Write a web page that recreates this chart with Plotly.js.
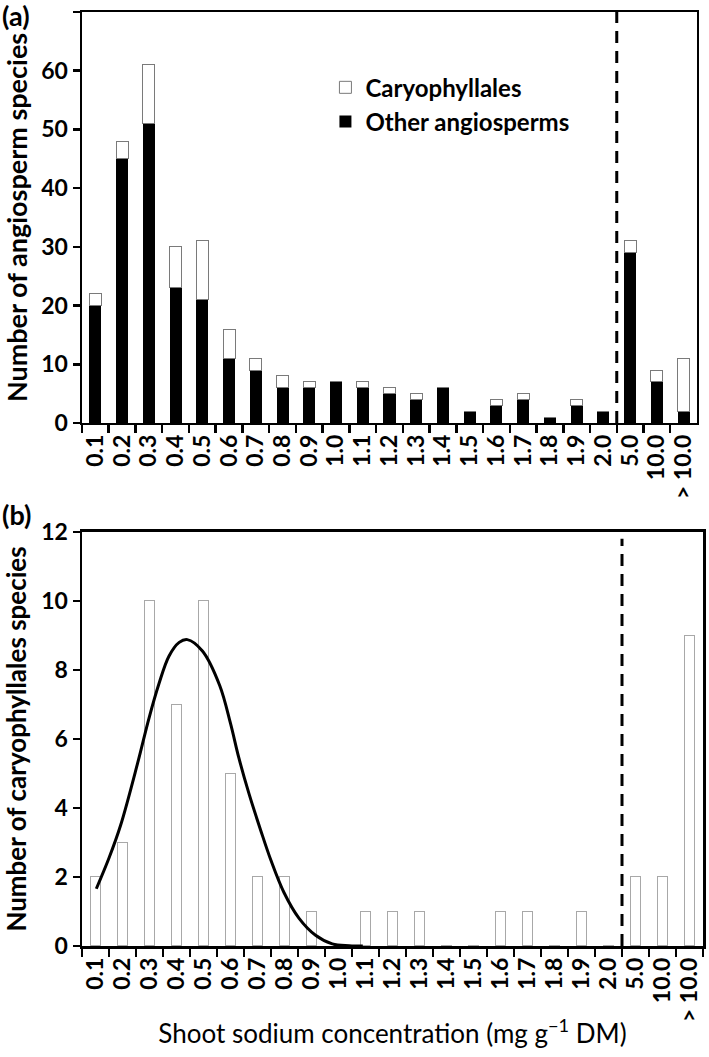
<!DOCTYPE html>
<html>
<head>
<meta charset="utf-8">
<script src="https://cdn.plot.ly/plotly-3.0.1.min.js"></script>
<style>html,body{margin:0;padding:0;background:#fff;}#chart{width:709px;height:1057px;}</style>
</head>
<body>
<div id="chart"></div>
<script>
// Categories (shoot Na concentration bins, mg g-1 DM)
const categories = ["0.1","0.2","0.3","0.4","0.5","0.6","0.7","0.8","0.9","1.0",
  "1.1","1.2","1.3","1.4","1.5","1.6","1.7","1.8","1.9","2.0","5.0","10.0","> 10.0"];
// Panel (a): other angiosperms (black) and Caryophyllales (white, stacked)
const otherAngiosperms = [20,45,51,23,21,11,9,6,6,7,6,5,4,6,2,3,4,1,3,2,29,7,2];
const caryophyllales   = [2,3,10,7,10,5,2,2,1,0,1,1,1,0,0,1,1,0,1,0,2,2,9];
// Panel (b): fitted curve (x in category-index units)
const curveX = [0.03,0.5,0.93,1.56,1.98,2.35,2.72,3.1,3.4,3.96,4.6,5.0,5.31,5.69,6.12,6.49,6.98,7.54,8.15,8.77,9.4,9.9];
const curveY = [1.66,2.55,3.5,5.3,6.6,7.6,8.4,8.8,8.88,8.55,7.55,6.45,5.45,4.4,3.35,2.5,1.55,0.8,0.31,0.06,0.01,0];
const dividerIndex = 19.5; // boundary between 2.0 and 5.0

const FONT = "Lato, 'Open Sans', sans-serif";

const traces = [
  {type:'bar', x:categories, y:otherAngiosperms, name:'Other angiosperms', xaxis:'x', yaxis:'y',
   width:0.45, marker:{color:'#000000', line:{color:'#000000', width:0}}, legendrank:2},
  {type:'bar', x:categories, y:caryophyllales, name:'Caryophyllales', xaxis:'x', yaxis:'y',
   width:0.45, marker:{color:'#ffffff', line:{color:'#7a7a7a', width:1}}, legendrank:1},
  {type:'bar', x:categories, y:caryophyllales, name:'Caryophyllales (b)', xaxis:'x2', yaxis:'y2',
   width:0.4, showlegend:false, marker:{color:'#ffffff', line:{color:'#a8a8a8', width:1}}},
  {type:'scatter', mode:'lines', x:curveX, y:curveY, xaxis:'x3', yaxis:'y2', showlegend:false,
   line:{color:'#000', width:3, shape:'spline', smoothing:1}}
];

const xCommon = {
  type:'category', range:[-0.5,22.5], tickmode:'array', tickvals:categories, ticktext:categories,
  tickson:'boundaries', ticks:'outside', ticklen:8, tickwidth:2.5,
  tickcolor:'#000', tickangle:-90, showline:true, linewidth:2.5, linecolor:'#000', mirror:true,
  showgrid:false, zeroline:false, tickfont:{family:FONT, size:23, color:'#000', weight:'bold'}
};
const yCommon = {
  ticks:'outside', ticklen:7, tickwidth:2.5, tickcolor:'#000', showline:true, linewidth:2.5,
  linecolor:'#000', mirror:true, showgrid:false, zeroline:false,
  tickfont:{family:FONT, size:23, color:'#000', weight:'bold'}
};

const layout = {
  width:709, height:1057,
  margin:{l:82, r:6, t:12, b:111},
  paper_bgcolor:'#fff', plot_bgcolor:'#fff',
  barmode:'stack', bargap:0.5,
  font:{family:FONT, color:'#000'},
  xaxis:Object.assign({}, xCommon, {domain:[0,0.9903], anchor:'y'}),
  yaxis:Object.assign({}, yCommon, {domain:[0.56,1], range:[0,70], dtick:10, anchor:'x',
    title:{text:'Number of angiosperm species', font:{family:FONT, size:27, weight:'bold'}, standoff:8}}),
  xaxis2:Object.assign({}, xCommon, {domain:[0,1], anchor:'y2',
    title:{text:'Shoot sodium concentration (mg g<sup>\u22121</sup> DM)', font:{family:FONT, size:26}, standoff:4}}),
  yaxis2:Object.assign({}, yCommon, {domain:[0,0.4433], range:[0,12], dtick:2, anchor:'x2',
    title:{text:'Number of caryophyllales species', font:{family:FONT, size:26, weight:'bold'}, standoff:8}}),
  xaxis3:{overlaying:'x2', anchor:'y2', range:[-0.5,22.5], visible:false, domain:[0,1]},
  legend:{x:0.392, y:0.943, xanchor:'left', yanchor:'top', traceorder:'normal',
    font:{family:FONT, size:24, weight:'bold', color:'#000'}, bgcolor:'rgba(0,0,0,0)'},
  shapes:[
    {type:'line', xref:'x', yref:'y', x0:dividerIndex, x1:dividerIndex, y0:0, y1:70,
     line:{color:'#000', width:3, dash:'12px,8px'}},
    {type:'line', xref:'x2', yref:'y2', x0:dividerIndex, x1:dividerIndex, y0:0, y1:11.8,
     line:{color:'#000', width:3, dash:'12px,8px'}}
  ],
  annotations:[
    {text:'(a)', xref:'paper', yref:'paper', x:-0.106, y:0.996, xanchor:'center', yanchor:'middle',
     showarrow:false, font:{family:FONT, size:27, weight:'bold'}},
    {text:'(b)', xref:'paper', yref:'paper', x:-0.106, y:0.462, xanchor:'center', yanchor:'middle',
     showarrow:false, font:{family:FONT, size:27, weight:'bold'}}
  ]
};

Plotly.newPlot('chart', traces, layout, {displayModeBar:false, staticPlot:true});
</script>
</body>
</html>
